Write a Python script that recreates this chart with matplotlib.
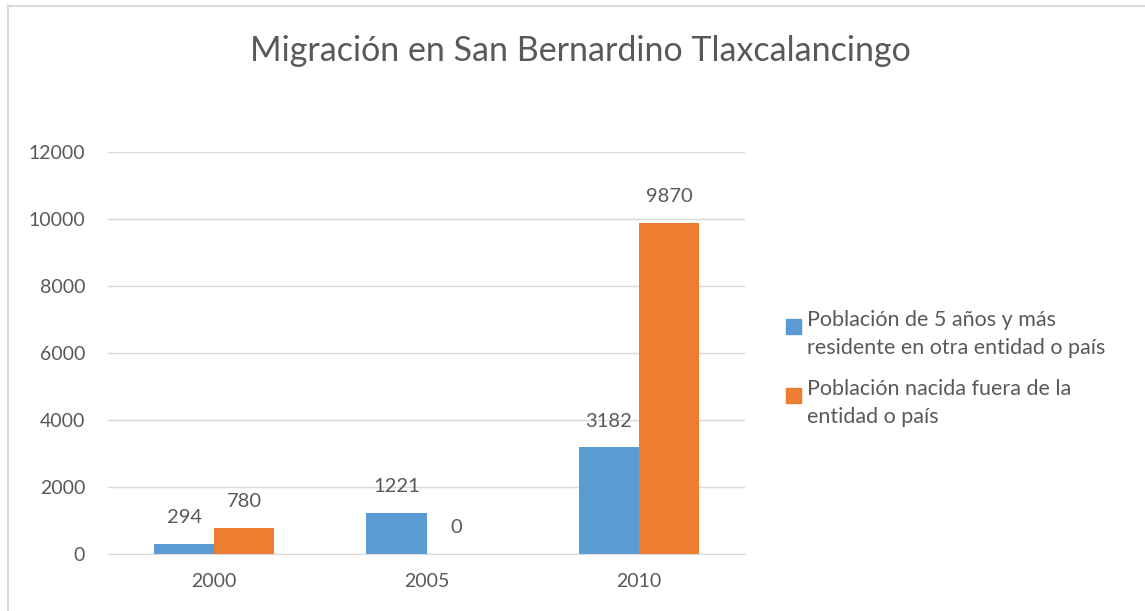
import numpy as np
import matplotlib.pyplot as plt
from matplotlib.lines import Line2D
from matplotlib.patches import Rectangle

plt.rcParams['font.family'] = ['Lato', 'DejaVu Sans']

years = ["2000", "2005", "2010"]
residentes = [294, 1221, 3182]
nacidos = [780, 0, 9870]
series_names = [
    "Población de 5 años y más\nresidente en otra entidad o país",
    "Población nacida fuera de la\nentidad o país",
]
colors = ["#5B9BD5", "#ED7D31"]
text_color = "#595959"

fig = plt.figure(figsize=(11.45, 6.11), dpi=100)
ax = fig.add_axes([108 / 1145, 57 / 611, 637 / 1145, 402 / 611])

x = np.arange(len(years))
w = 0.283
b1 = ax.bar(x - w / 2, residentes, w, color=colors[0], zorder=2)
b2 = ax.bar(x + w / 2, nacidos, w, color=colors[1], zorder=2)

for bars, vals in ((b1, residentes), (b2, nacidos)):
    for rect, v in zip(bars, vals):
        ax.annotate(str(v), (rect.get_x() + rect.get_width() / 2, v),
                    xytext=(0, 19), textcoords="offset points",
                    ha="center", va="center", fontsize=14.5, color=text_color)

ax.set_xlim(-0.5, 2.5)
ax.set_ylim(0, 12000)
ax.set_yticks(range(0, 12001, 2000))
ax.set_xticks(x)
ax.set_xticklabels(years)
ax.grid(axis="y", color="#D9D9D9", linewidth=1, zorder=0)
for s in ("top", "right", "left"):
    ax.spines[s].set_visible(False)
ax.spines["bottom"].set_color("#D9D9D9")
ax.tick_params(length=0, labelsize=14, labelcolor=text_color)
ax.tick_params(axis="y", pad=16.5)
ax.tick_params(axis="x", pad=14)

fig.text(580 / 1145, 1 - 51 / 611, "Migración en San Bernardino Tlaxcalancingo",
         ha="center", va="center", fontsize=24.5, color=text_color)

# legend drawn by hand so the square sits on the first line like in Excel
for i, (name, c) in enumerate(zip(series_names, colors)):
    top = 319 + i * 69
    fig.patches.append(Rectangle((786 / 1145, 1 - (top + 15) / 611), 15 / 1145, 15 / 611,
                                 transform=fig.transFigure, color=c))
    fig.text(807 / 1145, 1 - (top - 9) / 611, name, ha="left", va="top",
             fontsize=15.5, color=text_color, linespacing=1.47)

# light frame around the chart area
fig.add_artist(Line2D([8 / 1145, 1], [1 - 6 / 611, 1 - 6 / 611], transform=fig.transFigure,
                      color="#D9D9D9", linewidth=1.5))
fig.add_artist(Line2D([8 / 1145, 8 / 1145], [0, 1 - 6 / 611], transform=fig.transFigure,
                      color="#D9D9D9", linewidth=1.5))

fig.savefig("out.png", dpi=100)
